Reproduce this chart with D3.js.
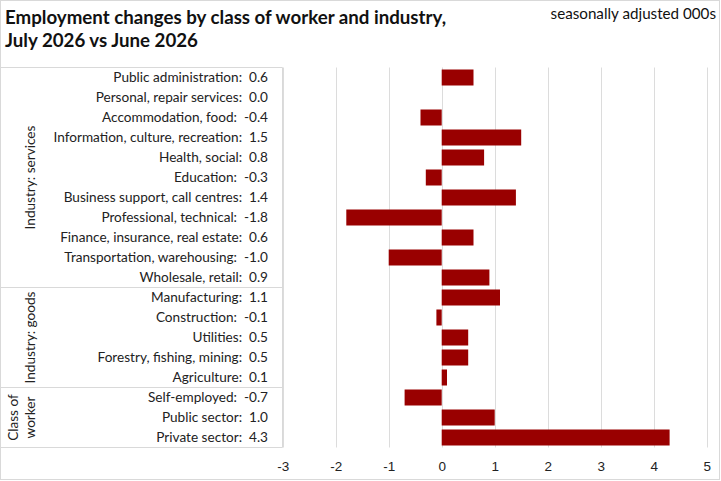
<!DOCTYPE html>
<html>
<head>
<meta charset="utf-8">
<script src="https://cdn.jsdelivr.net/npm/d3@7"></script>
<style>
  body { margin: 0; background: #fff; }
  svg { display: block; font-family: Lato, "Noto Sans", sans-serif; }
  .grid line { stroke: #dcdcdc; }
  .xaxis text { font-size: 13.5px; fill: #222; }
  .cat { font-size: 13.6px; fill: #222; }
  .grp { font-size: 13.6px; fill: #222; }
</style>
</head>
<body>
<div id="chart"></div>
<script>
var categories = [
  'Public administration', 'Personal, repair services', 'Accommodation, food',
  'Information, culture, recreation', 'Health, social', 'Education',
  'Business support, call centres', 'Professional, technical',
  'Finance, insurance, real estate', 'Transportation, warehousing',
  'Wholesale, retail', 'Manufacturing', 'Construction', 'Utilities',
  'Forestry, fishing, mining', 'Agriculture', 'Self-employed',
  'Public sector', 'Private sector'
];
var values = [0.6, 0.0, -0.4, 1.5, 0.8, -0.3, 1.4, -1.8, 0.6, -1.0, 0.9,
  1.1, -0.1, 0.5, 0.5, 0.1, -0.7, 1.0, 4.3];
var groupNames = [['Industry: services'], ['Industry: goods'], ['Class of', 'worker']];
var groupSizes = [11, 5, 3];
var xTicks = [-3, -2, -1, 0, 1, 2, 3, 4, 5];

var width = 721, height = 481;
var plotLeft = 282.7, plotRight = 706.7, plotTop = 67.5, plotBottom = 447.5;

// Excel style: plain hyphen for negatives
var fmt1 = function (v) { return v.toFixed(1); };
var fmt0 = function (v) { return String(v); };

var svg = d3.select('#chart').append('svg')
  .attr('width', width)
  .attr('height', height);

// outer frame
svg.append('rect')
  .attr('x', 0.5).attr('y', 0.5)
  .attr('width', width - 2).attr('height', height - 2)
  .attr('fill', 'none').attr('stroke', '#d9d9d9');

svg.append('text')
  .attr('x', 5).attr('y', 24)
  .style('font-size', '18.7px').style('font-weight', 'bold').style('fill', '#111')
  .text('Employment changes by class of worker and industry,');
svg.append('text')
  .attr('x', 5).attr('y', 47)
  .style('font-size', '18.7px').style('font-weight', 'bold').style('fill', '#111')
  .text('July 2026 vs June 2026');
svg.append('text')
  .attr('x', 716).attr('y', 19)
  .attr('text-anchor', 'end')
  .style('font-size', '15.2px').style('fill', '#111')
  .text('seasonally adjusted 000s');

var xScale = d3.scaleLinear()
  .domain([-3, 5])
  .range([plotLeft, plotRight]);

var yScale = d3.scaleBand()
  .domain(categories)
  .range([plotTop, plotBottom])
  .paddingInner(0.2)
  .paddingOuter(0.1);

var step = yScale.step();

// vertical gridlines
svg.append('g')
  .classed('grid', true)
  .selectAll('line')
  .data(xTicks)
  .enter()
  .append('line')
  .attr('x1', function (d) { return Math.round(xScale(d)) + 0.5; })
  .attr('x2', function (d) { return Math.round(xScale(d)) + 0.5; })
  .attr('y1', plotTop)
  .attr('y2', plotBottom);

var xAxis = d3.axisBottom(xScale)
  .tickValues(xTicks)
  .tickSize(0)
  .tickPadding(14)
  .tickFormat(fmt0);

svg.append('g')
  .classed('xaxis', true)
  .attr('transform', 'translate(0,' + plotBottom + ')')
  .call(xAxis)
  .call(function (g) { g.select('.domain').remove(); });

// label table
var table = svg.append('g');
table.append('path')
  .attr('d', 'M0,' + plotTop + 'H' + (Math.round(plotLeft) - 0.5) + 'V' + plotBottom + 'H0')
  .attr('fill', 'none').attr('stroke', '#d9d9d9');

var start = 0;
groupSizes.forEach(function (n, i) {
  var y0 = plotTop + start * step;
  var y1 = plotTop + (start + n) * step;
  if (i > 0) {
    table.append('line')
      .attr('x1', 0).attr('x2', Math.round(plotLeft) - 0.5)
      .attr('y1', y0).attr('y2', y0)
      .attr('stroke', '#d9d9d9');
  }
  var lines = groupNames[i];
  var cy = (y0 + y1) / 2;
  lines.forEach(function (t, j) {
    var cx = lines.length === 1 ? 30 : 13 + j * 17;
    table.append('text')
      .classed('grp', true)
      .attr('transform', 'translate(' + (cx + 5) + ',' + cy + ') rotate(-90)')
      .attr('text-anchor', 'middle')
      .text(t);
  });
  start += n;
});

table.selectAll('.cat')
  .data(categories)
  .enter()
  .append('text')
  .classed('cat', true)
  .attr('x', 268)
  .attr('y', function (d) { return yScale(d) + yScale.bandwidth() / 2 + 4.8; })
  .attr('text-anchor', 'end')
  .attr('xml:space', 'preserve')
  .text(function (d, i) { return d + ':  ' + fmt1(values[i]); });

svg.append('g')
  .selectAll('rect')
  .data(categories)
  .enter()
  .append('rect')
  .attr('x', function (d, i) { return xScale(Math.min(0, values[i])); })
  .attr('y', function (d) { return yScale(d); })
  .attr('width', function (d, i) { return Math.abs(xScale(values[i]) - xScale(0)); })
  .attr('height', yScale.bandwidth())
  .attr('fill', '#990000');
</script>
</body>
</html>
